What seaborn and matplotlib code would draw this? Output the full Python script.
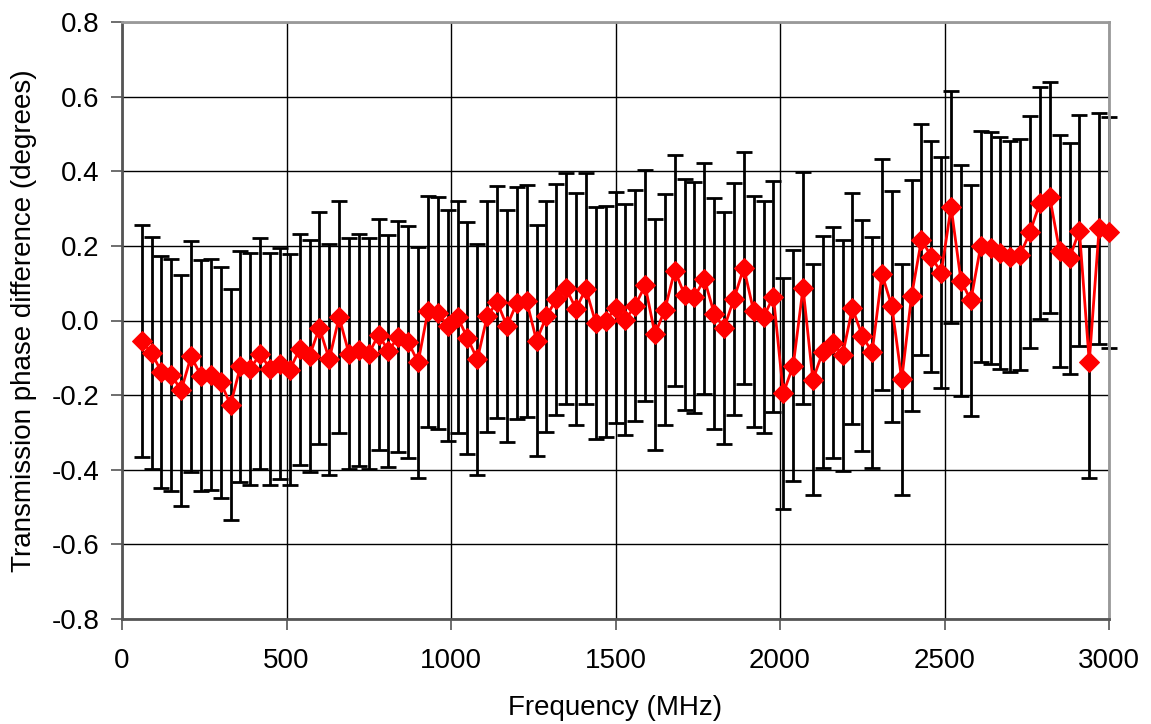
import numpy as np
import pandas as pd
import matplotlib
matplotlib.use("Agg")
import matplotlib.pyplot as plt
import seaborn as sns

# Frequency (MHz)
freq = list(range(60, 3001, 30))

# Transmission phase difference (degrees)
phase = [
    # 60 .. 480
    -0.055, -0.087, -0.138, -0.146, -0.187, -0.096, -0.148, -0.145, -0.166, -0.226,
    -0.123, -0.130, -0.089, -0.130, -0.116,
    # 510 .. 990
    -0.132, -0.077, -0.095, -0.020, -0.104, 0.009, -0.089, -0.079, -0.089, -0.038,
    -0.082, -0.043, -0.058, -0.112, 0.025, 0.020, -0.014,
    # 1020 .. 1470
    0.009, -0.047, -0.104, 0.011, 0.050, -0.015, 0.047, 0.052, -0.054, 0.011,
    0.057, 0.086, 0.031, 0.085, -0.007, -0.002,
    # 1500 .. 1980
    0.034, 0.002, 0.040, 0.094, -0.037, 0.029, 0.134, 0.069, 0.062, 0.112,
    0.018, -0.020, 0.058, 0.141, 0.025, 0.009, 0.064,
    # 2010 .. 2430
    -0.195, -0.121, 0.087, -0.159, -0.084, -0.059, -0.093, 0.033, -0.041, -0.085,
    0.124, 0.038, -0.158, 0.067, 0.217,
    # 2460 .. 3000
    0.171, 0.128, 0.304, 0.107, 0.054, 0.199, 0.194, 0.181, 0.171, 0.176,
    0.237, 0.315, 0.330, 0.186, 0.167, 0.241, -0.111, 0.247, 0.236,
]

# Symmetric uncertainty (degrees)
uncert = [0.31] * len(freq)

x_ticks = [0, 500, 1000, 1500, 2000, 2500, 3000]
y_ticks = [-0.8, -0.6, -0.4, -0.2, 0.0, 0.2, 0.4, 0.6, 0.8]

df = pd.DataFrame({"freq": freq, "phase": phase, "err": uncert})

sns.set_theme(style="white")
plt.rcParams["font.family"] = ["Liberation Sans", "DejaVu Sans"]

fig = plt.figure(figsize=(11.51, 7.24), dpi=100)
ax = fig.add_axes([122 / 1151, 1 - 619 / 724, (1109 - 122) / 1151, (619 - 22) / 724])

eb = ax.errorbar(df["freq"], df["phase"], yerr=df["err"], fmt="none",
                 ecolor="black", elinewidth=2.0, capsize=5.8, capthick=2.0, zorder=2)
for art in eb.lines[1] + eb.lines[2]:
    art.set_clip_on(False)
for art in eb.lines[2]:
    art.set_clip_on(False)

sns.lineplot(data=df, x="freq", y="phase", ax=ax, color="#FF0000",
             linewidth=2.0, marker="D", markersize=10, markeredgecolor="#FF0000",
             markerfacecolor="#FF0000", zorder=3, estimator=None, sort=False)
for ln in ax.lines:
    ln.set_clip_on(False)

ax.set_xlim(0, 3000)
ax.set_ylim(-0.8, 0.8)
ax.set_xticks(x_ticks)
ax.set_yticks(y_ticks)
ax.set_xticklabels([str(v) for v in x_ticks])
ax.set_yticklabels([f"{v:.1f}" for v in y_ticks])

ax.grid(True, color="black", linewidth=1.0)
ax.set_axisbelow(True)

for side in ["top", "right"]:
    ax.spines[side].set_color("#999999")
    ax.spines[side].set_linewidth(2.0)
for side in ["left", "bottom"]:
    ax.spines[side].set_color("#555555")
    ax.spines[side].set_linewidth(2.0)
    ax.spines[side].set_visible(True)

ax.tick_params(axis="x", which="major", pad=13)
ax.tick_params(axis="y", which="major", pad=8)
ax.tick_params(axis="both", which="major", direction="out", length=8, width=1.2,
               color="#555555", labelsize=20, labelcolor="black",
               bottom=True, left=True)

ax.set_xlabel("Frequency (MHz)", fontsize=20, color="black", labelpad=15)
ax.set_ylabel("Transmission phase difference (degrees)", fontsize=20,
              color="black", labelpad=11)

fig.savefig("out.png", dpi=100, facecolor="white")
